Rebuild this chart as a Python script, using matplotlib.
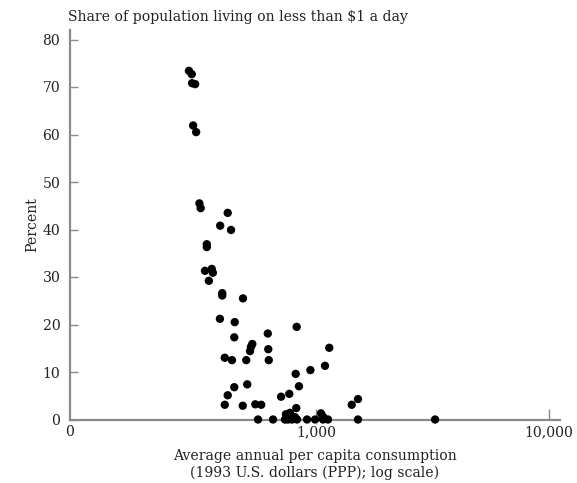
import matplotlib
matplotlib.use("Agg")
import matplotlib.pyplot as plt

# Average annual per capita consumption (1993 US$, PPP) and share living on < $1/day
consumption = [
    285, 293, 294, 303, 297, 306, 316, 320, 418, 388, 432, 340, 340,
    334, 357, 361, 347, 396, 396, 486, 387, 448, 446, 621, 533, 526,
    521, 624, 406, 436, 502, 627, 826, 818, 845, 507, 446, 418, 406,
    485, 549, 582, 708, 768, 1140, 1093, 946, 1423, 1514, 743, 773,
    823, 753, 812, 1050, 1072,
    564, 654, 736, 758, 789, 829, 915, 991, 1072, 1126, 1514, 3243,
]
share_percent = [
    73.4, 72.7, 70.8, 70.6, 61.9, 60.5, 45.5, 44.5, 43.5, 40.8, 39.9, 36.9, 36.3,
    31.3, 31.7, 30.9, 29.2, 26.6, 26.1, 25.5, 21.2, 20.5, 17.3, 18.1, 15.9, 15.3,
    14.4, 14.8, 13.0, 12.5, 12.5, 12.5, 19.5, 9.6, 7.0, 7.4, 6.8, 5.1, 3.1,
    2.9, 3.2, 3.1, 4.8, 5.4, 15.1, 11.3, 10.4, 3.1, 4.3, 1.1, 1.4,
    2.4, 0.5, 0.5, 1.3, 0.6,
    0, 0, 0, 0, 0, 0, 0, 0, 0, 0, 0, 0,
]

y_ticks = [0, 10, 20, 30, 40, 50, 60, 70, 80]
x_min, x_max = 88, 11140
x_ticks = [x_min, 1000, 10000]
x_tick_labels = ["0", "1,000", "10,000"]

plt.rcParams["font.family"] = ["DejaVu Serif"]
font_size = 10.1
text_color = "#222222"

fig = plt.figure(figsize=(5.77, 4.83), dpi=100)
ax = fig.add_axes([70 / 577, 1 - 419.5 / 483, (560 - 70) / 577, (419.5 - 30) / 483])

ax.scatter(consumption, share_percent, s=36, color="black", edgecolors="none",
           zorder=3, clip_on=False)

ax.set_xscale("log")
ax.set_xlim(x_min, x_max)
ax.set_ylim(0, 82)

ax.set_xticks(x_ticks)
ax.set_xticklabels(x_tick_labels)
ax.xaxis.set_minor_locator(matplotlib.ticker.NullLocator())
ax.set_yticks(y_ticks)

spine_color = "#8a8a8a"
for side in ("top", "right"):
    ax.spines[side].set_visible(False)
for side in ("left", "bottom"):
    ax.spines[side].set_color(spine_color)
    ax.spines[side].set_linewidth(1.6)

ax.tick_params(axis="both", direction="in", color=spine_color, width=1.0,
               labelsize=font_size, labelcolor=text_color)
ax.tick_params(axis="y", length=6, pad=7)
ax.tick_params(axis="x", length=8, pad=4)
# no tick mark at the origin label
ax.xaxis.get_major_ticks()[0].tick1line.set_visible(False)

ax.set_ylabel("Percent", fontsize=font_size, color=text_color, labelpad=2)
ax.set_xlabel("Average annual per capita consumption\n(1993 U.S. dollars (PPP); log scale)",
              fontsize=font_size, color=text_color, labelpad=7, linespacing=1.25)

fig.text(68 / 577, 1 - 17 / 483, "Share of population living on less than $1 a day",
         fontsize=font_size, color=text_color, ha="left", va="center")

fig.savefig("out.png", dpi=100)
